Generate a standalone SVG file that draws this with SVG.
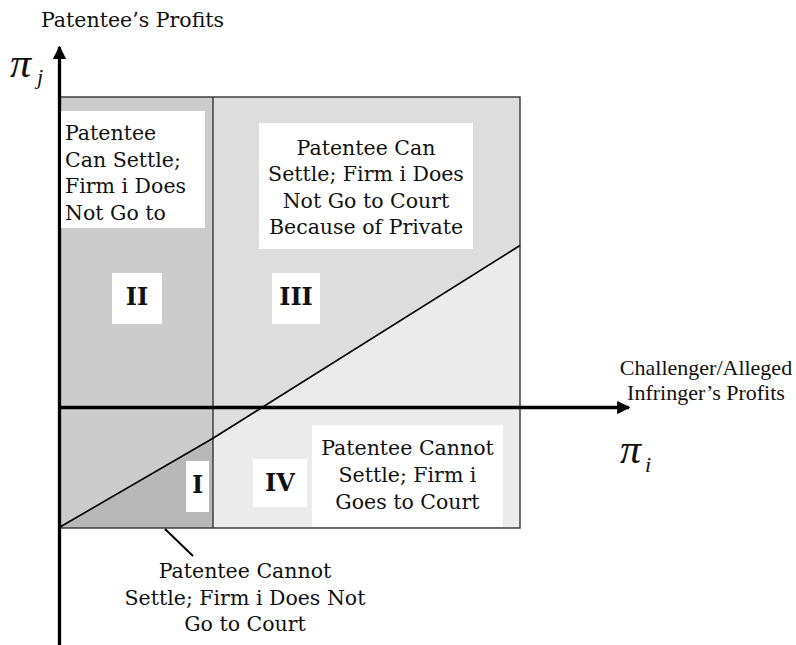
<svg xmlns="http://www.w3.org/2000/svg" width="796" height="645" viewBox="0 0 796 645">
<defs>
<style>
.t{font-family:"DejaVu Serif","Liberation Serif",serif;font-size:20.5px;fill:#111;}
.c{text-anchor:middle;}
.b{font-family:"DejaVu Serif","Liberation Serif",serif;font-size:24px;font-weight:bold;fill:#111;text-anchor:middle;}
.tm{font-family:"Liberation Serif","Times New Roman",serif;font-size:22px;fill:#111;text-anchor:middle;}
.pi{font-family:"Liberation Serif","Times New Roman",serif;font-style:italic;fill:#111;}
.box{fill:#ffffff;}
.ax{stroke:#000;stroke-width:3.3;fill:none;}
.frame{stroke:#333;stroke-width:1.4;fill:none;}
</style>
<marker id="ah" viewBox="0 0 10 10" refX="9" refY="5" markerWidth="4" markerHeight="4" markerUnits="strokeWidth" orient="auto">
<path d="M0,0 L10,5 L0,10 z" fill="#000"/>
</marker>
</defs>

<g id="regions">
<rect x="59" y="97" width="154" height="431" fill="#cccccc"/>
<rect x="213" y="97" width="307" height="431" fill="#dddddd"/>
<polygon points="213,438.3 520,245.5 520,528 213,528" fill="#ebebeb"/>
<polygon points="60,527 213,438.3 213,528 60,528" fill="#b8b8b8"/>
<rect class="frame" x="59" y="97" width="461" height="431"/>
<line class="frame" x1="213" y1="97" x2="213" y2="528"/>
<polyline points="60,527 213,438.3 520,245.5" fill="none" stroke="#000" stroke-width="1.6"/>
</g>

<g id="connectors">
<line class="ax" x1="59.5" y1="645" x2="59.5" y2="47" marker-end="url(#ah)"/>
<line class="ax" x1="58" y1="407.5" x2="629" y2="407.5" marker-end="url(#ah)"/>
<line x1="165" y1="529" x2="193" y2="556" stroke="#000" stroke-width="2"/>
</g>

<g id="node-II-text">
<rect class="box" x="61" y="111" width="144" height="117"/>
<text class="t" x="65" y="140">Patentee</text>
<text class="t" x="65" y="166.5">Can Settle;</text>
<text class="t" x="65" y="193">Firm i Does</text>
<text class="t" x="65" y="219.5">Not Go to</text>
</g>

<g id="node-III-text">
<rect class="box" x="259" y="123" width="214" height="126"/>
<text class="t c" x="366" y="154.5">Patentee Can</text>
<text class="t c" x="366" y="181">Settle; Firm i Does</text>
<text class="t c" x="366" y="207.5">Not Go to Court</text>
<text class="t c" x="366" y="233.5">Because of Private</text>
</g>

<g id="node-II">
<rect class="box" x="112" y="273" width="50" height="51"/>
<text class="b" x="137" y="305">II</text>
</g>

<g id="node-III">
<rect class="box" x="272" y="273" width="48" height="51"/>
<text class="b" x="296" y="305">III</text>
</g>

<g id="node-I">
<rect class="box" x="186" y="461" width="23" height="51"/>
<text class="b" x="197.5" y="493">I</text>
</g>

<g id="node-IV">
<rect class="box" x="253" y="459" width="54" height="48"/>
<text class="b" x="280" y="491">IV</text>
</g>

<g id="node-IV-text">
<rect class="box" x="312" y="425" width="191" height="102"/>
<text class="t c" x="407.5" y="455">Patentee Cannot</text>
<text class="t c" x="407.5" y="482">Settle; Firm i</text>
<text class="t c" x="407.5" y="509">Goes to Court</text>
</g>

<g id="node-I-text">
<text class="t c" x="245" y="578">Patentee Cannot</text>
<text class="t c" x="245" y="604.5">Settle; Firm i Does Not</text>
<text class="t c" x="245" y="631">Go to Court</text>
</g>

<g id="axis-labels">
<text class="t" x="41" y="27">Patentee’s Profits</text>
<text class="pi" x="10" y="77" font-size="42">π</text>
<text class="pi" x="37" y="84" font-size="22">j</text>
<text class="tm" x="706" y="375">Challenger/Alleged</text>
<text class="tm" x="706" y="400">Infringer’s Profits</text>
<text class="pi" x="620" y="463" font-size="42">π</text>
<text class="pi" x="645" y="471.5" font-size="22">i</text>
</g>
</svg>
